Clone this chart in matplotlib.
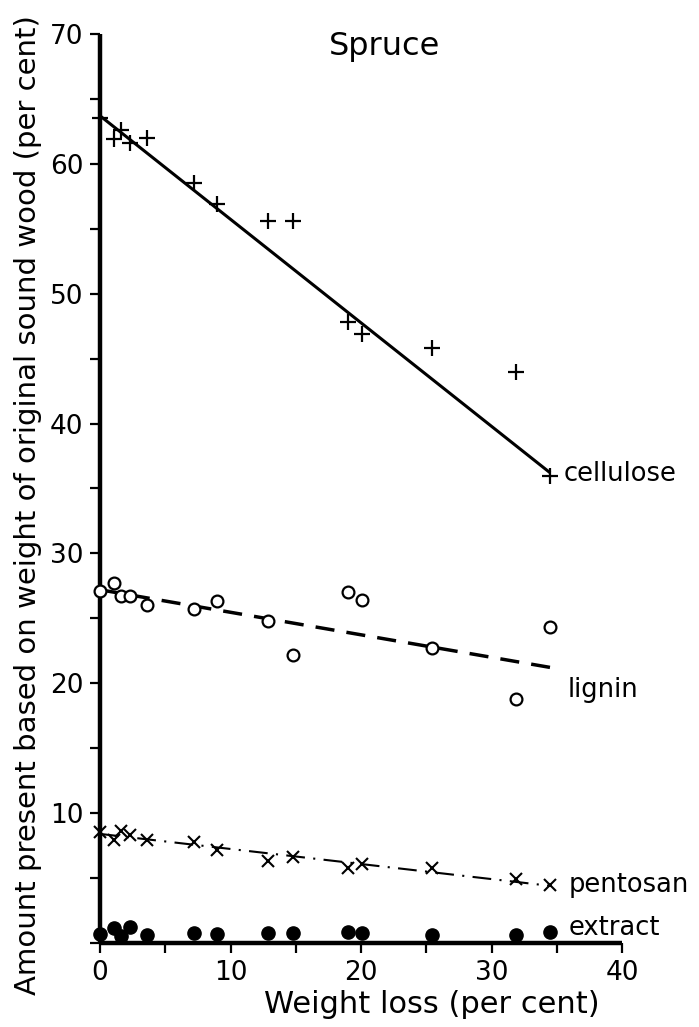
#!/usr/bin/env python3
"""Spruce: wood components remaining vs weight loss during decay."""

import matplotlib
matplotlib.use('Agg')
import matplotlib.pyplot as plt
import matplotlib.ticker as ticker

plt.rcParams['font.family'] = 'DejaVu Sans'

# Weight loss (per cent) of each sample
weight_loss = [0, 1.1, 1.6, 2.3, 3.6, 7.2, 9.0, 12.9, 14.8, 19.0, 20.1, 25.4, 31.9, 34.5]

# Amount present (per cent of original sound wood)
cellulose = [63.5, 61.9, 62.6, 61.6, 62.0, 58.5, 56.9, 55.6, 55.6, 47.8, 46.9, 45.8, 44.0, 36.0]
lignin = [27.1, 27.7, 26.7, 26.7, 26.0, 25.7, 26.35, 24.8, 22.2, 27.0, 26.4, 22.7, 18.8, 24.3]
pentosan = [8.57, 7.9, 8.65, 8.3, 7.93, 7.8, 7.16, 6.31, 6.6, 5.75, 6.06, 5.75, 4.9, 4.46]
extract = [0.69, 1.18, 0.54, 1.21, 0.62, 0.79, 0.69, 0.75, 0.75, 0.82, 0.75, 0.62, 0.62, 0.87]

# Fitted lines (end points)
cellulose_fit_x = [0, 34.5]
cellulose_fit_y = [63.7, 36.2]
lignin_fit_x = [0, 34.9]
lignin_fit_y = [27.2, 21.15]
pentosan_fit_x = [0, 34.5]
pentosan_fit_y = [8.4, 4.4]

x_ticks = [0, 10, 20, 30, 40]
y_ticks = [10, 20, 30, 40, 50, 60, 70]


def main():
    fig = plt.figure(figsize=(6.99, 10.27), dpi=100)
    ax = fig.add_axes([0.1431, 0.0818, 0.7468, 0.8851])

    # fitted lines
    ax.plot(cellulose_fit_x, cellulose_fit_y, color='black', linewidth=2.2,
            solid_capstyle='butt', zorder=2)
    ax.plot(lignin_fit_x, lignin_fit_y, color='black', linewidth=2.5,
            dashes=(5.5, 3.5), zorder=2)
    ax.plot(pentosan_fit_x, pentosan_fit_y, color='black', linewidth=1.5,
            dashes=(9, 4, 1, 4), zorder=2)

    # data points
    ax.plot(weight_loss, cellulose, linestyle='none', marker='+', markersize=11.5,
            markeredgewidth=1.6, color='black', clip_on=False, zorder=3)
    ax.plot(weight_loss, lignin, linestyle='none', marker='o', markersize=8.5,
            markerfacecolor='white', markeredgecolor='black', markeredgewidth=1.6,
            clip_on=False, zorder=3)
    ax.plot(weight_loss, pentosan, linestyle='none', marker='x', markersize=8.5,
            markeredgewidth=1.5, color='black', clip_on=False, zorder=3)
    ax.plot(weight_loss, extract, linestyle='none', marker='o', markersize=9.5,
            color='black', clip_on=False, zorder=3)

    # series labels
    label_kw = dict(fontsize=18.5, va='center', ha='left', color='black')
    ax.text(35.5, 36.1, 'cellulose', **label_kw)
    ax.text(35.8, 19.5, 'lignin', **label_kw)
    ax.text(35.9, 4.5, 'pentosan', **label_kw)
    ax.text(35.9, 1.15, 'extract', **label_kw)

    ax.text(21.8, 69.0, 'Spruce', fontsize=23, ha='center', va='center')

    ax.set_xlim(0, 40)
    ax.set_ylim(0, 70)

    for side in ['top', 'right']:
        ax.spines[side].set_visible(False)
    for side in ['left', 'bottom']:
        ax.spines[side].set_linewidth(3.2)
        ax.spines[side].set_capstyle('butt')

    ax.set_xticks(x_ticks)
    ax.set_yticks(y_ticks)
    ax.xaxis.set_minor_locator(ticker.MultipleLocator(5))
    ax.yaxis.set_minor_locator(ticker.MultipleLocator(5))
    ax.tick_params(which='both', direction='out', width=1.6, length=7,
                   labelsize=19, pad=5, color='black')

    ax.set_xlabel('Weight loss (per cent)', fontsize=22)
    ax.xaxis.set_label_coords(0.636, -0.052)
    ax.set_ylabel('Amount present based on weight of original sound wood (per cent)',
                  fontsize=21)
    ax.yaxis.set_label_coords(-0.112, 0.482)

    fig.savefig('out.png', dpi=100)
    plt.close(fig)


if __name__ == '__main__':
    main()
